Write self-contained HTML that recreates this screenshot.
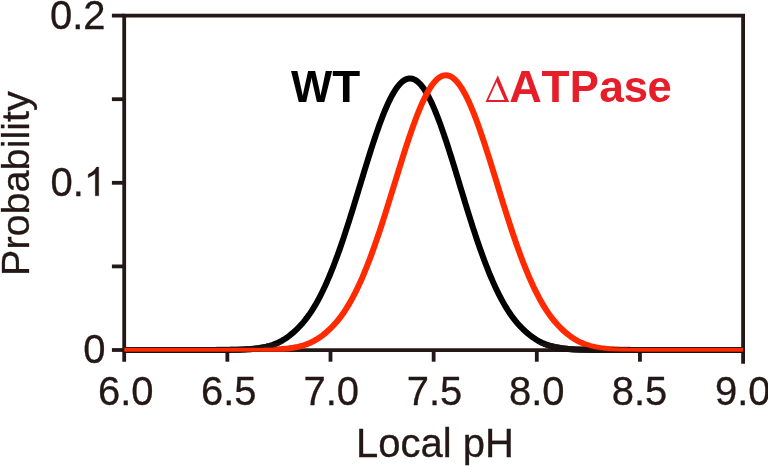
<!DOCTYPE html>
<html lang="en">
<head>
<meta charset="utf-8">
<title>Local pH probability distribution</title>
<style>
html,body{margin:0;padding:0;background:#ffffff;}
body{width:768px;height:466px;overflow:hidden;font-family:"Liberation Sans",sans-serif;}
svg{display:block;will-change:transform;}
text{font-family:"Liberation Sans",sans-serif;}
.ax line,.ax path{stroke:#231815;stroke-width:3.8;fill:none;stroke-linecap:butt;}
.tick{font-size:40px;fill:#231815;stroke:#231815;stroke-width:0.3px;}
</style>
</head>
<body>
<svg width="768" height="466" viewBox="0 0 768 466">
<rect width="768" height="466" fill="#ffffff"/>
<!-- axes frame -->
<g class="ax">
<path d="M124.20,361.7 L124.20,15.60 L743.10,15.60 L743.10,363.8" stroke-linejoin="miter"/>
<line x1="124.20" y1="350.20" x2="743.10" y2="350.20"/>
<line x1="227.35" y1="350.00" x2="227.35" y2="361.70"/><line x1="330.50" y1="350.00" x2="330.50" y2="361.70"/><line x1="433.65" y1="350.00" x2="433.65" y2="361.70"/><line x1="536.80" y1="350.00" x2="536.80" y2="361.70"/><line x1="639.95" y1="350.00" x2="639.95" y2="361.70"/>
<line x1="111.9" y1="350.00" x2="124.20" y2="350.00"/><line x1="111.9" y1="266.40" x2="124.20" y2="266.40"/><line x1="111.9" y1="182.80" x2="124.20" y2="182.80"/><line x1="111.9" y1="99.20" x2="124.20" y2="99.20"/><line x1="111.9" y1="15.60" x2="124.20" y2="15.60"/>
</g>
<!-- curves -->
<path d="M124.20,350.00 L125.75,350.00 L127.29,350.00 L128.84,350.00 L130.39,350.00 L131.94,350.00 L133.48,350.00 L135.03,350.00 L136.58,350.00 L138.13,350.00 L139.67,350.00 L141.22,350.00 L142.77,350.00 L144.31,350.00 L145.86,350.00 L147.41,350.00 L148.96,350.00 L150.50,350.00 L152.05,350.00 L153.60,350.00 L155.15,350.00 L156.69,350.00 L158.24,350.00 L159.79,350.00 L161.33,350.00 L162.88,350.00 L164.43,350.00 L165.98,350.00 L167.52,350.00 L169.07,350.00 L170.62,350.00 L172.16,350.00 L173.71,350.00 L175.26,350.00 L176.81,350.00 L178.35,350.00 L179.90,350.00 L181.45,350.00 L183.00,350.00 L184.54,350.00 L186.09,350.00 L187.64,350.00 L189.18,350.00 L190.73,350.00 L192.28,350.00 L193.83,350.00 L195.37,350.00 L196.92,350.00 L198.47,350.00 L200.02,350.00 L201.56,350.00 L203.11,349.99 L204.66,349.99 L206.20,349.99 L207.75,349.99 L209.30,349.99 L210.85,349.99 L212.39,349.98 L213.94,349.98 L215.49,349.98 L217.04,349.97 L218.58,349.96 L220.13,349.96 L221.68,349.95 L223.22,349.94 L224.77,349.93 L226.32,349.92 L227.87,349.90 L229.41,349.88 L230.96,349.86 L232.51,349.84 L234.05,349.81 L235.60,349.78 L237.15,349.74 L238.70,349.70 L240.24,349.65 L241.79,349.59 L243.34,349.52 L244.89,349.45 L246.43,349.37 L247.98,349.27 L249.53,349.16 L251.07,349.04 L252.62,348.90 L254.17,348.75 L255.72,348.57 L257.26,348.38 L258.81,348.16 L260.36,347.92 L261.91,347.65 L263.45,347.35 L265.00,347.02 L266.55,346.66 L268.09,346.26 L269.64,345.82 L271.19,345.34 L272.74,344.82 L274.28,344.24 L275.83,343.62 L277.38,342.95 L278.93,342.22 L280.47,341.44 L282.02,340.60 L283.57,339.69 L285.11,338.72 L286.66,337.69 L288.21,336.59 L289.76,335.43 L291.30,334.19 L292.85,332.89 L294.40,331.52 L295.94,330.08 L297.49,328.57 L299.04,327.00 L300.59,325.37 L302.13,323.65 L303.68,321.84 L305.23,319.93 L306.78,317.93 L308.32,315.82 L309.87,313.62 L311.42,311.30 L312.96,308.88 L314.51,306.35 L316.06,303.71 L317.61,300.95 L319.15,298.08 L320.70,295.10 L322.25,292.00 L323.80,288.78 L325.34,285.45 L326.89,282.00 L328.44,278.43 L329.98,274.75 L331.53,270.96 L333.08,267.06 L334.63,263.04 L336.17,258.92 L337.72,254.70 L339.27,250.38 L340.81,245.96 L342.36,241.45 L343.91,236.85 L345.46,232.17 L347.00,227.41 L348.55,222.59 L350.10,217.70 L351.65,212.76 L353.19,207.76 L354.74,202.73 L356.29,197.67 L357.83,192.58 L359.38,187.48 L360.93,182.38 L362.48,177.28 L364.02,172.20 L365.57,167.14 L367.12,162.13 L368.67,157.15 L370.21,152.24 L371.76,147.40 L373.31,142.63 L374.85,137.96 L376.40,133.39 L377.95,128.94 L379.50,124.61 L381.04,120.42 L382.59,116.37 L384.14,112.48 L385.69,108.76 L387.23,105.21 L388.78,101.85 L390.33,98.69 L391.87,95.72 L393.42,92.98 L394.97,90.45 L396.52,88.15 L398.06,86.08 L399.61,84.25 L401.16,82.66 L402.70,81.32 L404.25,80.24 L405.80,79.41 L407.35,78.84 L408.89,78.53 L410.44,78.48 L411.99,78.69 L413.54,79.16 L415.08,79.89 L416.63,80.88 L418.18,82.11 L419.72,83.60 L421.27,85.34 L422.82,87.32 L424.37,89.53 L425.91,91.97 L427.46,94.64 L429.01,97.52 L430.56,100.60 L432.10,103.89 L433.65,107.36 L435.20,111.02 L436.74,114.85 L438.29,118.83 L439.84,122.97 L441.39,127.25 L442.93,131.66 L444.48,136.18 L446.03,140.82 L447.58,145.54 L449.12,150.36 L450.67,155.25 L452.22,160.20 L453.76,165.20 L455.31,170.24 L456.86,175.32 L458.41,180.41 L459.95,185.51 L461.50,190.61 L463.05,195.71 L464.60,200.78 L466.14,205.82 L467.69,210.83 L469.24,215.79 L470.78,220.70 L472.33,225.55 L473.88,230.34 L475.43,235.05 L476.97,239.68 L478.52,244.22 L480.07,248.68 L481.61,253.04 L483.16,257.30 L484.71,261.46 L486.26,265.52 L487.80,269.46 L489.35,273.30 L490.90,277.02 L492.45,280.63 L493.99,284.13 L495.54,287.50 L497.09,290.77 L498.63,293.91 L500.18,296.94 L501.73,299.85 L503.28,302.65 L504.82,305.34 L506.37,307.91 L507.92,310.38 L509.47,312.73 L511.01,314.98 L512.56,317.13 L514.11,319.17 L515.65,321.11 L517.20,322.96 L518.75,324.71 L520.30,326.38 L521.84,327.97 L523.39,329.50 L524.94,330.97 L526.49,332.37 L528.03,333.70 L529.58,334.96 L531.13,336.15 L532.67,337.27 L534.22,338.33 L535.77,339.32 L537.32,340.25 L538.86,341.12 L540.41,341.93 L541.96,342.68 L543.50,343.37 L545.05,344.01 L546.60,344.60 L548.15,345.14 L549.69,345.64 L551.24,346.09 L552.79,346.51 L554.34,346.89 L555.88,347.23 L557.43,347.54 L558.98,347.82 L560.52,348.07 L562.07,348.30 L563.62,348.50 L565.17,348.68 L566.71,348.84 L568.26,348.99 L569.81,349.12 L571.36,349.23 L572.90,349.33 L574.45,349.42 L576.00,349.50 L577.54,349.56 L579.09,349.62 L580.64,349.68 L582.19,349.72 L583.73,349.76 L585.28,349.80 L586.83,349.83 L588.38,349.85 L589.92,349.87 L591.47,349.89 L593.02,349.91 L594.56,349.92 L596.11,349.94 L597.66,349.95 L599.21,349.95 L600.75,349.96 L602.30,349.97 L603.85,349.97 L605.39,349.98 L606.94,349.98 L608.49,349.98 L610.04,349.99 L611.58,349.99 L613.13,349.99 L614.68,349.99 L616.23,349.99 L617.77,350.00 L619.32,350.00 L620.87,350.00 L622.41,350.00 L623.96,350.00 L625.51,350.00 L627.06,350.00 L628.60,350.00 L630.15,350.00 L631.70,350.00 L633.25,350.00 L634.79,350.00 L636.34,350.00 L637.89,350.00 L639.43,350.00 L640.98,350.00 L642.53,350.00 L644.08,350.00 L645.62,350.00 L647.17,350.00 L648.72,350.00 L650.27,350.00 L651.81,350.00 L653.36,350.00 L654.91,350.00 L656.45,350.00 L658.00,350.00 L659.55,350.00 L661.10,350.00 L662.64,350.00 L664.19,350.00 L665.74,350.00 L667.28,350.00 L668.83,350.00 L670.38,350.00 L671.93,350.00 L673.47,350.00 L675.02,350.00 L676.57,350.00 L678.12,350.00 L679.66,350.00 L681.21,350.00 L682.76,350.00 L684.30,350.00 L685.85,350.00 L687.40,350.00 L688.95,350.00 L690.49,350.00 L692.04,350.00 L693.59,350.00 L695.14,350.00 L696.68,350.00 L698.23,350.00 L699.78,350.00 L701.32,350.00 L702.87,350.00 L704.42,350.00 L705.97,350.00 L707.51,350.00 L709.06,350.00 L710.61,350.00 L712.15,350.00 L713.70,350.00 L715.25,350.00 L716.80,350.00 L718.34,350.00 L719.89,350.00 L721.44,350.00 L722.99,350.00 L724.53,350.00 L726.08,350.00 L727.63,350.00 L729.17,350.00 L730.72,350.00 L732.27,350.00 L733.82,350.00 L735.36,350.00 L736.91,350.00 L738.46,350.00 L740.01,350.00 L741.55,350.00 L743.10,350.00" fill="none" stroke="#000000" stroke-width="6.0" stroke-linejoin="round" stroke-linecap="butt"/>
<clipPath id="rc"><rect x="0" y="0" width="768" height="351.7"/></clipPath>
<path d="M124.20,350.00 L125.75,350.00 L127.29,350.00 L128.84,350.00 L130.39,350.00 L131.94,350.00 L133.48,350.00 L135.03,350.00 L136.58,350.00 L138.13,350.00 L139.67,350.00 L141.22,350.00 L142.77,350.00 L144.31,350.00 L145.86,350.00 L147.41,350.00 L148.96,350.00 L150.50,350.00 L152.05,350.00 L153.60,350.00 L155.15,350.00 L156.69,350.00 L158.24,350.00 L159.79,350.00 L161.33,350.00 L162.88,350.00 L164.43,350.00 L165.98,350.00 L167.52,350.00 L169.07,350.00 L170.62,350.00 L172.16,350.00 L173.71,350.00 L175.26,350.00 L176.81,350.00 L178.35,350.00 L179.90,350.00 L181.45,350.00 L183.00,350.00 L184.54,350.00 L186.09,350.00 L187.64,350.00 L189.18,350.00 L190.73,350.00 L192.28,350.00 L193.83,350.00 L195.37,350.00 L196.92,350.00 L198.47,350.00 L200.02,350.00 L201.56,350.00 L203.11,350.00 L204.66,350.00 L206.20,350.00 L207.75,350.00 L209.30,350.00 L210.85,350.00 L212.39,350.00 L213.94,350.00 L215.49,350.00 L217.04,350.00 L218.58,350.00 L220.13,350.00 L221.68,350.00 L223.22,350.00 L224.77,350.00 L226.32,350.00 L227.87,350.00 L229.41,350.00 L230.96,350.00 L232.51,350.00 L234.05,349.99 L235.60,349.99 L237.15,349.99 L238.70,349.99 L240.24,349.99 L241.79,349.99 L243.34,349.98 L244.89,349.98 L246.43,349.98 L247.98,349.97 L249.53,349.96 L251.07,349.96 L252.62,349.95 L254.17,349.94 L255.72,349.93 L257.26,349.92 L258.81,349.90 L260.36,349.89 L261.91,349.87 L263.45,349.84 L265.00,349.82 L266.55,349.79 L268.09,349.75 L269.64,349.71 L271.19,349.66 L272.74,349.61 L274.28,349.55 L275.83,349.48 L277.38,349.41 L278.93,349.32 L280.47,349.22 L282.02,349.11 L283.57,348.98 L285.11,348.84 L286.66,348.68 L288.21,348.50 L289.76,348.30 L291.30,348.08 L292.85,347.84 L294.40,347.57 L295.94,347.27 L297.49,346.94 L299.04,346.57 L300.59,346.17 L302.13,345.74 L303.68,345.26 L305.23,344.74 L306.78,344.18 L308.32,343.56 L309.87,342.90 L311.42,342.19 L312.96,341.42 L314.51,340.59 L316.06,339.71 L317.61,338.76 L319.15,337.75 L320.70,336.68 L322.25,335.55 L323.80,334.34 L325.34,333.08 L326.89,331.74 L328.44,330.34 L329.98,328.88 L331.53,327.36 L333.08,325.77 L334.63,324.11 L336.17,322.36 L337.72,320.53 L339.27,318.59 L340.81,316.57 L342.36,314.44 L343.91,312.22 L345.46,309.89 L347.00,307.46 L348.55,304.92 L350.10,302.28 L351.65,299.52 L353.19,296.65 L354.74,293.68 L356.29,290.59 L357.83,287.39 L359.38,284.08 L360.93,280.65 L362.48,277.12 L364.02,273.47 L365.57,269.72 L367.12,265.86 L368.67,261.89 L370.21,257.82 L371.76,253.65 L373.31,249.39 L374.85,245.03 L376.40,240.58 L377.95,236.05 L379.50,231.44 L381.04,226.76 L382.59,222.00 L384.14,217.19 L385.69,212.32 L387.23,207.40 L388.78,202.45 L390.33,197.46 L391.87,192.44 L393.42,187.41 L394.97,182.37 L396.52,177.34 L398.06,172.31 L399.61,167.31 L401.16,162.33 L402.70,157.40 L404.25,152.52 L405.80,147.70 L407.35,142.95 L408.89,138.29 L410.44,133.71 L411.99,129.24 L413.54,124.89 L415.08,120.65 L416.63,116.56 L418.18,112.60 L419.72,108.80 L421.27,105.16 L422.82,101.70 L424.37,98.41 L425.91,95.32 L427.46,92.42 L429.01,89.73 L430.56,87.25 L432.10,84.99 L433.65,82.96 L435.20,81.15 L436.74,79.58 L438.29,78.25 L439.84,77.16 L441.39,76.32 L442.93,75.73 L444.48,75.38 L446.03,75.29 L447.58,75.45 L449.12,75.86 L450.67,76.52 L452.22,77.43 L453.76,78.58 L455.31,79.98 L456.86,81.61 L458.41,83.48 L459.95,85.57 L461.50,87.89 L463.05,90.43 L464.60,93.18 L466.14,96.13 L467.69,99.27 L469.24,102.60 L470.78,106.12 L472.33,109.80 L473.88,113.64 L475.43,117.64 L476.97,121.77 L478.52,126.04 L480.07,130.42 L481.61,134.92 L483.16,139.52 L484.71,144.21 L486.26,148.98 L487.80,153.82 L489.35,158.71 L490.90,163.66 L492.45,168.64 L493.99,173.65 L495.54,178.68 L497.09,183.72 L498.63,188.75 L500.18,193.78 L501.73,198.79 L503.28,203.77 L504.82,208.72 L506.37,213.62 L507.92,218.48 L509.47,223.28 L511.01,228.01 L512.56,232.68 L514.11,237.27 L515.65,241.78 L517.20,246.20 L518.75,250.53 L520.30,254.77 L521.84,258.92 L523.39,262.96 L524.94,266.90 L526.49,270.73 L528.03,274.46 L529.58,278.07 L531.13,281.58 L532.67,284.97 L534.22,288.25 L535.77,291.42 L537.32,294.48 L538.86,297.43 L540.41,300.27 L541.96,302.99 L543.50,305.61 L545.05,308.12 L546.60,310.52 L548.15,312.82 L549.69,315.02 L551.24,317.12 L552.79,319.12 L554.34,321.02 L555.88,322.84 L557.43,324.56 L558.98,326.20 L560.52,327.77 L562.07,329.28 L563.62,330.72 L565.17,332.11 L566.71,333.42 L568.26,334.67 L569.81,335.85 L571.36,336.97 L572.90,338.03 L574.45,339.02 L576.00,339.95 L577.54,340.82 L579.09,341.63 L580.64,342.38 L582.19,343.08 L583.73,343.73 L585.28,344.33 L586.83,344.88 L588.38,345.39 L589.92,345.86 L591.47,346.28 L593.02,346.67 L594.56,347.03 L596.11,347.35 L597.66,347.64 L599.21,347.90 L600.75,348.14 L602.30,348.36 L603.85,348.55 L605.39,348.72 L606.94,348.88 L608.49,349.01 L610.04,349.14 L611.58,349.25 L613.13,349.34 L614.68,349.43 L616.23,349.50 L617.77,349.57 L619.32,349.63 L620.87,349.68 L622.41,349.72 L623.96,349.76 L625.51,349.79 L627.06,349.82 L628.60,349.85 L630.15,349.87 L631.70,349.89 L633.25,349.91 L634.79,349.92 L636.34,349.93 L637.89,349.94 L639.43,349.95 L640.98,349.96 L642.53,349.97 L644.08,349.97 L645.62,349.98 L647.17,349.98 L648.72,349.98 L650.27,349.99 L651.81,349.99 L653.36,349.99 L654.91,349.99 L656.45,349.99 L658.00,349.99 L659.55,350.00 L661.10,350.00 L662.64,350.00 L664.19,350.00 L665.74,350.00 L667.28,350.00 L668.83,350.00 L670.38,350.00 L671.93,350.00 L673.47,350.00 L675.02,350.00 L676.57,350.00 L678.12,350.00 L679.66,350.00 L681.21,350.00 L682.76,350.00 L684.30,350.00 L685.85,350.00 L687.40,350.00 L688.95,350.00 L690.49,350.00 L692.04,350.00 L693.59,350.00 L695.14,350.00 L696.68,350.00 L698.23,350.00 L699.78,350.00 L701.32,350.00 L702.87,350.00 L704.42,350.00 L705.97,350.00 L707.51,350.00 L709.06,350.00 L710.61,350.00 L712.15,350.00 L713.70,350.00 L715.25,350.00 L716.80,350.00 L718.34,350.00 L719.89,350.00 L721.44,350.00 L722.99,350.00 L724.53,350.00 L726.08,350.00 L727.63,350.00 L729.17,350.00 L730.72,350.00 L732.27,350.00 L733.82,350.00 L735.36,350.00 L736.91,350.00 L738.46,350.00 L740.01,350.00 L741.55,350.00 L743.10,350.00" fill="none" stroke="#ff2a00" stroke-width="6.0" stroke-linejoin="round" stroke-linecap="butt" clip-path="url(#rc)"/>
<!-- dark anti-alias fringe where the black curve lies directly beneath the red one (baseline) -->
<defs>
<mask id="fr" maskUnits="userSpaceOnUse" x="0" y="0" width="768" height="466">
<rect x="0" y="0" width="768" height="466" fill="#ffffff"/>
<path d="M124.20,350.00 L125.75,350.00 L127.29,350.00 L128.84,350.00 L130.39,350.00 L131.94,350.00 L133.48,350.00 L135.03,350.00 L136.58,350.00 L138.13,350.00 L139.67,350.00 L141.22,350.00 L142.77,350.00 L144.31,350.00 L145.86,350.00 L147.41,350.00 L148.96,350.00 L150.50,350.00 L152.05,350.00 L153.60,350.00 L155.15,350.00 L156.69,350.00 L158.24,350.00 L159.79,350.00 L161.33,350.00 L162.88,350.00 L164.43,350.00 L165.98,350.00 L167.52,350.00 L169.07,350.00 L170.62,350.00 L172.16,350.00 L173.71,350.00 L175.26,350.00 L176.81,350.00 L178.35,350.00 L179.90,350.00 L181.45,350.00 L183.00,350.00 L184.54,350.00 L186.09,350.00 L187.64,350.00 L189.18,350.00 L190.73,350.00 L192.28,350.00 L193.83,350.00 L195.37,350.00 L196.92,350.00 L198.47,350.00 L200.02,350.00 L201.56,350.00 L203.11,350.00 L204.66,350.00 L206.20,350.00 L207.75,350.00 L209.30,350.00 L210.85,350.00 L212.39,350.00 L213.94,350.00 L215.49,350.00 L217.04,350.00 L218.58,350.00 L220.13,350.00 L221.68,350.00 L223.22,350.00 L224.77,350.00 L226.32,350.00 L227.87,350.00 L229.41,350.00 L230.96,350.00 L232.51,350.00 L234.05,349.99 L235.60,349.99 L237.15,349.99 L238.70,349.99 L240.24,349.99 L241.79,349.99 L243.34,349.98 L244.89,349.98 L246.43,349.98 L247.98,349.97 L249.53,349.96 L251.07,349.96 L252.62,349.95 L254.17,349.94 L255.72,349.93 L257.26,349.92 L258.81,349.90 L260.36,349.89 L261.91,349.87 L263.45,349.84 L265.00,349.82 L266.55,349.79 L268.09,349.75 L269.64,349.71 L271.19,349.66 L272.74,349.61 L274.28,349.55 L275.83,349.48 L277.38,349.41 L278.93,349.32 L280.47,349.22 L282.02,349.11 L283.57,348.98 L285.11,348.84 L286.66,348.68 L288.21,348.50 L289.76,348.30 L291.30,348.08 L292.85,347.84 L294.40,347.57 L295.94,347.27 L297.49,346.94 L299.04,346.57 L300.59,346.17 L302.13,345.74 L303.68,345.26 L305.23,344.74 L306.78,344.18 L308.32,343.56 L309.87,342.90 L311.42,342.19 L312.96,341.42 L314.51,340.59 L316.06,339.71 L317.61,338.76 L319.15,337.75 L320.70,336.68 L322.25,335.55 L323.80,334.34 L325.34,333.08 L326.89,331.74 L328.44,330.34 L329.98,328.88 L331.53,327.36 L333.08,325.77 L334.63,324.11 L336.17,322.36 L337.72,320.53 L339.27,318.59 L340.81,316.57 L342.36,314.44 L343.91,312.22 L345.46,309.89 L347.00,307.46 L348.55,304.92 L350.10,302.28 L351.65,299.52 L353.19,296.65 L354.74,293.68 L356.29,290.59 L357.83,287.39 L359.38,284.08 L360.93,280.65 L362.48,277.12 L364.02,273.47 L365.57,269.72 L367.12,265.86 L368.67,261.89 L370.21,257.82 L371.76,253.65 L373.31,249.39 L374.85,245.03 L376.40,240.58 L377.95,236.05 L379.50,231.44 L381.04,226.76 L382.59,222.00 L384.14,217.19 L385.69,212.32 L387.23,207.40 L388.78,202.45 L390.33,197.46 L391.87,192.44 L393.42,187.41 L394.97,182.37 L396.52,177.34 L398.06,172.31 L399.61,167.31 L401.16,162.33 L402.70,157.40 L404.25,152.52 L405.80,147.70 L407.35,142.95 L408.89,138.29 L410.44,133.71 L411.99,129.24 L413.54,124.89 L415.08,120.65 L416.63,116.56 L418.18,112.60 L419.72,108.80 L421.27,105.16 L422.82,101.70 L424.37,98.41 L425.91,95.32 L427.46,92.42 L429.01,89.73 L430.56,87.25 L432.10,84.99 L433.65,82.96 L435.20,81.15 L436.74,79.58 L438.29,78.25 L439.84,77.16 L441.39,76.32 L442.93,75.73 L444.48,75.38 L446.03,75.29 L447.58,75.45 L449.12,75.86 L450.67,76.52 L452.22,77.43 L453.76,78.58 L455.31,79.98 L456.86,81.61 L458.41,83.48 L459.95,85.57 L461.50,87.89 L463.05,90.43 L464.60,93.18 L466.14,96.13 L467.69,99.27 L469.24,102.60 L470.78,106.12 L472.33,109.80 L473.88,113.64 L475.43,117.64 L476.97,121.77 L478.52,126.04 L480.07,130.42 L481.61,134.92 L483.16,139.52 L484.71,144.21 L486.26,148.98 L487.80,153.82 L489.35,158.71 L490.90,163.66 L492.45,168.64 L493.99,173.65 L495.54,178.68 L497.09,183.72 L498.63,188.75 L500.18,193.78 L501.73,198.79 L503.28,203.77 L504.82,208.72 L506.37,213.62 L507.92,218.48 L509.47,223.28 L511.01,228.01 L512.56,232.68 L514.11,237.27 L515.65,241.78 L517.20,246.20 L518.75,250.53 L520.30,254.77 L521.84,258.92 L523.39,262.96 L524.94,266.90 L526.49,270.73 L528.03,274.46 L529.58,278.07 L531.13,281.58 L532.67,284.97 L534.22,288.25 L535.77,291.42 L537.32,294.48 L538.86,297.43 L540.41,300.27 L541.96,302.99 L543.50,305.61 L545.05,308.12 L546.60,310.52 L548.15,312.82 L549.69,315.02 L551.24,317.12 L552.79,319.12 L554.34,321.02 L555.88,322.84 L557.43,324.56 L558.98,326.20 L560.52,327.77 L562.07,329.28 L563.62,330.72 L565.17,332.11 L566.71,333.42 L568.26,334.67 L569.81,335.85 L571.36,336.97 L572.90,338.03 L574.45,339.02 L576.00,339.95 L577.54,340.82 L579.09,341.63 L580.64,342.38 L582.19,343.08 L583.73,343.73 L585.28,344.33 L586.83,344.88 L588.38,345.39 L589.92,345.86 L591.47,346.28 L593.02,346.67 L594.56,347.03 L596.11,347.35 L597.66,347.64 L599.21,347.90 L600.75,348.14 L602.30,348.36 L603.85,348.55 L605.39,348.72 L606.94,348.88 L608.49,349.01 L610.04,349.14 L611.58,349.25 L613.13,349.34 L614.68,349.43 L616.23,349.50 L617.77,349.57 L619.32,349.63 L620.87,349.68 L622.41,349.72 L623.96,349.76 L625.51,349.79 L627.06,349.82 L628.60,349.85 L630.15,349.87 L631.70,349.89 L633.25,349.91 L634.79,349.92 L636.34,349.93 L637.89,349.94 L639.43,349.95 L640.98,349.96 L642.53,349.97 L644.08,349.97 L645.62,349.98 L647.17,349.98 L648.72,349.98 L650.27,349.99 L651.81,349.99 L653.36,349.99 L654.91,349.99 L656.45,349.99 L658.00,349.99 L659.55,350.00 L661.10,350.00 L662.64,350.00 L664.19,350.00 L665.74,350.00 L667.28,350.00 L668.83,350.00 L670.38,350.00 L671.93,350.00 L673.47,350.00 L675.02,350.00 L676.57,350.00 L678.12,350.00 L679.66,350.00 L681.21,350.00 L682.76,350.00 L684.30,350.00 L685.85,350.00 L687.40,350.00 L688.95,350.00 L690.49,350.00 L692.04,350.00 L693.59,350.00 L695.14,350.00 L696.68,350.00 L698.23,350.00 L699.78,350.00 L701.32,350.00 L702.87,350.00 L704.42,350.00 L705.97,350.00 L707.51,350.00 L709.06,350.00 L710.61,350.00 L712.15,350.00 L713.70,350.00 L715.25,350.00 L716.80,350.00 L718.34,350.00 L719.89,350.00 L721.44,350.00 L722.99,350.00 L724.53,350.00 L726.08,350.00 L727.63,350.00 L729.17,350.00 L730.72,350.00 L732.27,350.00 L733.82,350.00 L735.36,350.00 L736.91,350.00 L738.46,350.00 L740.01,350.00 L741.55,350.00 L743.10,350.00" fill="none" stroke="#000000" stroke-width="3.9"/>
</mask>
<clipPath id="bl"><rect x="124.20" y="343" width="618.90" height="14"/></clipPath>
</defs>
<g clip-path="url(#bl)"><path d="M124.20,350.00 L125.75,350.00 L127.29,350.00 L128.84,350.00 L130.39,350.00 L131.94,350.00 L133.48,350.00 L135.03,350.00 L136.58,350.00 L138.13,350.00 L139.67,350.00 L141.22,350.00 L142.77,350.00 L144.31,350.00 L145.86,350.00 L147.41,350.00 L148.96,350.00 L150.50,350.00 L152.05,350.00 L153.60,350.00 L155.15,350.00 L156.69,350.00 L158.24,350.00 L159.79,350.00 L161.33,350.00 L162.88,350.00 L164.43,350.00 L165.98,350.00 L167.52,350.00 L169.07,350.00 L170.62,350.00 L172.16,350.00 L173.71,350.00 L175.26,350.00 L176.81,350.00 L178.35,350.00 L179.90,350.00 L181.45,350.00 L183.00,350.00 L184.54,350.00 L186.09,350.00 L187.64,350.00 L189.18,350.00 L190.73,350.00 L192.28,350.00 L193.83,350.00 L195.37,350.00 L196.92,350.00 L198.47,350.00 L200.02,350.00 L201.56,350.00 L203.11,349.99 L204.66,349.99 L206.20,349.99 L207.75,349.99 L209.30,349.99 L210.85,349.99 L212.39,349.98 L213.94,349.98 L215.49,349.98 L217.04,349.97 L218.58,349.96 L220.13,349.96 L221.68,349.95 L223.22,349.94 L224.77,349.93 L226.32,349.92 L227.87,349.90 L229.41,349.88 L230.96,349.86 L232.51,349.84 L234.05,349.81 L235.60,349.78 L237.15,349.74 L238.70,349.70 L240.24,349.65 L241.79,349.59 L243.34,349.52 L244.89,349.45 L246.43,349.37 L247.98,349.27 L249.53,349.16 L251.07,349.04 L252.62,348.90 L254.17,348.75 L255.72,348.57 L257.26,348.38 L258.81,348.16 L260.36,347.92 L261.91,347.65 L263.45,347.35 L265.00,347.02 L266.55,346.66 L268.09,346.26 L269.64,345.82 L271.19,345.34 L272.74,344.82 L274.28,344.24 L275.83,343.62 L277.38,342.95 L278.93,342.22 L280.47,341.44 L282.02,340.60 L283.57,339.69 L285.11,338.72 L286.66,337.69 L288.21,336.59 L289.76,335.43 L291.30,334.19 L292.85,332.89 L294.40,331.52 L295.94,330.08 L297.49,328.57 L299.04,327.00 L300.59,325.37 L302.13,323.65 L303.68,321.84 L305.23,319.93 L306.78,317.93 L308.32,315.82 L309.87,313.62 L311.42,311.30 L312.96,308.88 L314.51,306.35 L316.06,303.71 L317.61,300.95 L319.15,298.08 L320.70,295.10 L322.25,292.00 L323.80,288.78 L325.34,285.45 L326.89,282.00 L328.44,278.43 L329.98,274.75 L331.53,270.96 L333.08,267.06 L334.63,263.04 L336.17,258.92 L337.72,254.70 L339.27,250.38 L340.81,245.96 L342.36,241.45 L343.91,236.85 L345.46,232.17 L347.00,227.41 L348.55,222.59 L350.10,217.70 L351.65,212.76 L353.19,207.76 L354.74,202.73 L356.29,197.67 L357.83,192.58 L359.38,187.48 L360.93,182.38 L362.48,177.28 L364.02,172.20 L365.57,167.14 L367.12,162.13 L368.67,157.15 L370.21,152.24 L371.76,147.40 L373.31,142.63 L374.85,137.96 L376.40,133.39 L377.95,128.94 L379.50,124.61 L381.04,120.42 L382.59,116.37 L384.14,112.48 L385.69,108.76 L387.23,105.21 L388.78,101.85 L390.33,98.69 L391.87,95.72 L393.42,92.98 L394.97,90.45 L396.52,88.15 L398.06,86.08 L399.61,84.25 L401.16,82.66 L402.70,81.32 L404.25,80.24 L405.80,79.41 L407.35,78.84 L408.89,78.53 L410.44,78.48 L411.99,78.69 L413.54,79.16 L415.08,79.89 L416.63,80.88 L418.18,82.11 L419.72,83.60 L421.27,85.34 L422.82,87.32 L424.37,89.53 L425.91,91.97 L427.46,94.64 L429.01,97.52 L430.56,100.60 L432.10,103.89 L433.65,107.36 L435.20,111.02 L436.74,114.85 L438.29,118.83 L439.84,122.97 L441.39,127.25 L442.93,131.66 L444.48,136.18 L446.03,140.82 L447.58,145.54 L449.12,150.36 L450.67,155.25 L452.22,160.20 L453.76,165.20 L455.31,170.24 L456.86,175.32 L458.41,180.41 L459.95,185.51 L461.50,190.61 L463.05,195.71 L464.60,200.78 L466.14,205.82 L467.69,210.83 L469.24,215.79 L470.78,220.70 L472.33,225.55 L473.88,230.34 L475.43,235.05 L476.97,239.68 L478.52,244.22 L480.07,248.68 L481.61,253.04 L483.16,257.30 L484.71,261.46 L486.26,265.52 L487.80,269.46 L489.35,273.30 L490.90,277.02 L492.45,280.63 L493.99,284.13 L495.54,287.50 L497.09,290.77 L498.63,293.91 L500.18,296.94 L501.73,299.85 L503.28,302.65 L504.82,305.34 L506.37,307.91 L507.92,310.38 L509.47,312.73 L511.01,314.98 L512.56,317.13 L514.11,319.17 L515.65,321.11 L517.20,322.96 L518.75,324.71 L520.30,326.38 L521.84,327.97 L523.39,329.50 L524.94,330.97 L526.49,332.37 L528.03,333.70 L529.58,334.96 L531.13,336.15 L532.67,337.27 L534.22,338.33 L535.77,339.32 L537.32,340.25 L538.86,341.12 L540.41,341.93 L541.96,342.68 L543.50,343.37 L545.05,344.01 L546.60,344.60 L548.15,345.14 L549.69,345.64 L551.24,346.09 L552.79,346.51 L554.34,346.89 L555.88,347.23 L557.43,347.54 L558.98,347.82 L560.52,348.07 L562.07,348.30 L563.62,348.50 L565.17,348.68 L566.71,348.84 L568.26,348.99 L569.81,349.12 L571.36,349.23 L572.90,349.33 L574.45,349.42 L576.00,349.50 L577.54,349.56 L579.09,349.62 L580.64,349.68 L582.19,349.72 L583.73,349.76 L585.28,349.80 L586.83,349.83 L588.38,349.85 L589.92,349.87 L591.47,349.89 L593.02,349.91 L594.56,349.92 L596.11,349.94 L597.66,349.95 L599.21,349.95 L600.75,349.96 L602.30,349.97 L603.85,349.97 L605.39,349.98 L606.94,349.98 L608.49,349.98 L610.04,349.99 L611.58,349.99 L613.13,349.99 L614.68,349.99 L616.23,349.99 L617.77,350.00 L619.32,350.00 L620.87,350.00 L622.41,350.00 L623.96,350.00 L625.51,350.00 L627.06,350.00 L628.60,350.00 L630.15,350.00 L631.70,350.00 L633.25,350.00 L634.79,350.00 L636.34,350.00 L637.89,350.00 L639.43,350.00 L640.98,350.00 L642.53,350.00 L644.08,350.00 L645.62,350.00 L647.17,350.00 L648.72,350.00 L650.27,350.00 L651.81,350.00 L653.36,350.00 L654.91,350.00 L656.45,350.00 L658.00,350.00 L659.55,350.00 L661.10,350.00 L662.64,350.00 L664.19,350.00 L665.74,350.00 L667.28,350.00 L668.83,350.00 L670.38,350.00 L671.93,350.00 L673.47,350.00 L675.02,350.00 L676.57,350.00 L678.12,350.00 L679.66,350.00 L681.21,350.00 L682.76,350.00 L684.30,350.00 L685.85,350.00 L687.40,350.00 L688.95,350.00 L690.49,350.00 L692.04,350.00 L693.59,350.00 L695.14,350.00 L696.68,350.00 L698.23,350.00 L699.78,350.00 L701.32,350.00 L702.87,350.00 L704.42,350.00 L705.97,350.00 L707.51,350.00 L709.06,350.00 L710.61,350.00 L712.15,350.00 L713.70,350.00 L715.25,350.00 L716.80,350.00 L718.34,350.00 L719.89,350.00 L721.44,350.00 L722.99,350.00 L724.53,350.00 L726.08,350.00 L727.63,350.00 L729.17,350.00 L730.72,350.00 L732.27,350.00 L733.82,350.00 L735.36,350.00 L736.91,350.00 L738.46,350.00 L740.01,350.00 L741.55,350.00 L743.10,350.00" fill="none" stroke="#1c1412" stroke-opacity="0.85" stroke-width="6.2" mask="url(#fr)"/></g>
<!-- tick labels -->
<g class="tick">
<text transform="translate(125.80,405.30) scale(1,1.02)" text-anchor="middle">6.0</text><text transform="translate(228.75,405.30) scale(1,1.02)" text-anchor="middle">6.5</text><text transform="translate(331.30,405.30) scale(1,1.02)" text-anchor="middle">7.0</text><text transform="translate(434.45,405.30) scale(1,1.02)" text-anchor="middle">7.5</text><text transform="translate(536.80,405.30) scale(1,1.02)" text-anchor="middle">8.0</text><text transform="translate(639.55,405.30) scale(1,1.02)" text-anchor="middle">8.5</text><text transform="translate(742.70,405.30) scale(1,1.02)" text-anchor="middle">9.0</text>
<text transform="translate(105.50,28.60) scale(1,1.02)" text-anchor="end">0.2</text>
<text transform="translate(83.85,196.00) scale(1,1.02)" text-anchor="end">0.</text>
<path transform="translate(83.85,195.8)" fill="#231815" d="M14.9,0 H11.39 V-22.4 Q10.12,-21.19 8.06,-19.98 Q6,-18.77 4.36,-18.16 V-21.56 Q7.3,-22.95 9.51,-24.92 Q11.72,-26.89 12.64,-28.75 H14.9 Z"/>
<text transform="translate(105.50,363.40) scale(1,1.02)" text-anchor="end">0</text>
</g>
<!-- axis titles -->
<text class="tick" transform="translate(435,457.4) scale(1,1.03)" text-anchor="middle">Local pH</text>
<text class="tick" style="font-size:39.6px" transform="translate(29.4,183.6) rotate(-90) scale(1,1.0)" text-anchor="middle">Probability</text>
<!-- series labels -->
<text transform="translate(291.06,102.3) scale(1.0,1.03)" font-size="43.6" font-weight="bold" fill="#000000">W</text><text transform="translate(332.29,102.3) scale(1.05,1.03)" font-size="43.6" font-weight="bold" fill="#000000">T</text>
<text transform="translate(509.28,102.4) scale(1.035,1.03)" font-size="43.6" font-weight="bold" fill="#e61e2a">A</text><text transform="translate(541.49,102.4) scale(1.05,1.03)" font-size="43.6" font-weight="bold" fill="#e61e2a">T</text><text transform="translate(569.78,102.4) scale(1.0,1.03)" font-size="43.6" font-weight="bold" fill="#e61e2a">P</text><text transform="translate(599.20,102.4) scale(1.02,1.03)" font-size="43.6" font-weight="bold" fill="#e61e2a">a</text><text transform="translate(623.87,102.4) scale(1.0,1.03)" font-size="43.6" font-weight="bold" fill="#e61e2a">s</text><text transform="translate(647.60,102.4) scale(1.0,1.03)" font-size="43.6" font-weight="bold" fill="#e61e2a">e</text>
<!-- Greek capital delta drawn as symbol-font style glyph -->
<path d="M485.5,102.1 L497.8,75.3 L509.1,102.1 Z M488.4,99.9 L504.6,99.9 L496.6,81.9 Z" fill="#e61e2a" fill-rule="evenodd"/>
</svg>
</body>
</html>
